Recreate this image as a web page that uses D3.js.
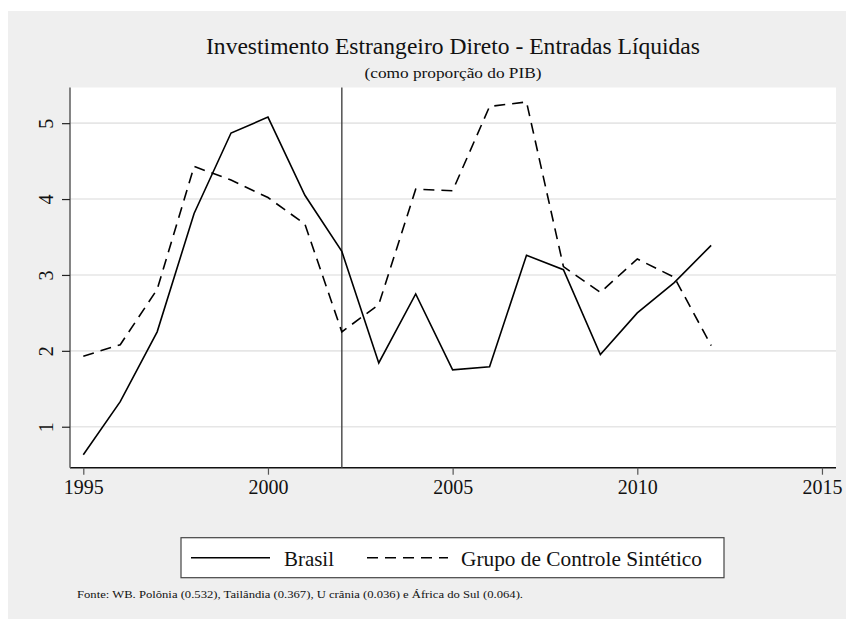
<!DOCTYPE html>
<html lang="pt">
<head>
  <meta charset="UTF-8">
  <title>Investimento Estrangeiro Direto</title>
  <script src="https://cdn.jsdelivr.net/npm/d3@7"></script>
  <style>
    body { margin: 0; background: #fff; }
    text { font-family: "Liberation Serif", "Times New Roman", Times, serif; fill: #111; }
    .grid line { stroke: #e6e6e6; stroke-width: 1.6px; }
    .line { fill: none; stroke: #000; stroke-width: 1.6px; }
  </style>
</head>
<body>
  <svg width="846" height="619"></svg>
  <script>
    // anos e séries (IED, % do PIB)
    const years = [1995, 1996, 1997, 1998, 1999, 2000, 2001, 2002, 2003, 2004,
                   2005, 2006, 2007, 2008, 2009, 2010, 2011, 2012];
    const brasil = [0.63, 1.33, 2.25, 3.81, 4.87, 5.08, 4.05, 3.31, 1.84, 2.75,
                    1.75, 1.79, 3.26, 3.07, 1.95, 2.50, 2.90, 3.39];
    const sintetico = [1.93, 2.08, 2.81, 4.43, 4.25, 4.02, 3.67, 2.25, 2.61, 4.13,
                       4.11, 5.22, 5.28, 3.11, 2.77, 3.21, 2.97, 2.07];
    const xTicks = [1995, 2000, 2005, 2010, 2015];
    const yTicks = [1, 2, 3, 4, 5];
    const treatYear = 2002;
    const seriesNames = ["Brasil", "Grupo de Controle Sintético"];
    const title = "Investimento Estrangeiro Direto - Entradas Líquidas";
    const subtitle = "(como proporção do PIB)";
    const note = "Fonte: WB. Polônia (0.532), Tailândia (0.367), U crânia (0.036) e  África do Sul (0.064).";

    const svg = d3.select("svg");

    // fundo cinza
    svg.append("rect")
      .attr("x", 8).attr("y", 11)
      .attr("width", 838).attr("height", 608)
      .attr("fill", "#efefef");

    const plot = { left: 70, top: 87.5, right: 836, bottom: 467.7 };

    const x = d3.scaleLinear()
      .domain([1994.64, 2015.38])
      .range([plot.left, plot.right]);
    const y = d3.scaleLinear()
      .domain([0.46, 5.47])
      .range([plot.bottom, plot.top]);

    svg.append("rect")
      .attr("x", plot.left).attr("y", plot.top)
      .attr("width", plot.right - plot.left)
      .attr("height", plot.bottom - plot.top)
      .attr("fill", "#fff");

    // linhas de grade
    svg.append("g").attr("class", "grid")
      .selectAll("line")
      .data(yTicks)
      .join("line")
        .attr("x1", plot.left).attr("x2", plot.right)
        .attr("y1", d => y(d)).attr("y2", d => y(d));

    // eixo x
    const xAxis = svg.append("g")
      .attr("transform", `translate(0,${plot.bottom})`)
      .call(d3.axisBottom(x).tickValues(xTicks).tickFormat(d3.format("d")).tickSize(7).tickPadding(5));
    xAxis.select(".domain").attr("stroke", "#111").attr("stroke-width", 1.4)
      .attr("d", `M${plot.left},0H${plot.right}`);
    xAxis.selectAll(".tick line").attr("stroke", "#555").attr("stroke-width", 1.2);
    xAxis.selectAll("text").attr("font-size", 20).attr("fill", "#111");

    // eixo y
    const yAxis = svg.append("g")
      .attr("transform", `translate(${plot.left},0)`)
      .call(d3.axisLeft(y).tickValues(yTicks).tickFormat(d3.format("d")).tickSize(8).tickPadding(0));
    yAxis.select(".domain").attr("stroke", "#666").attr("stroke-width", 1.6)
      .attr("d", `M0,${plot.top}V${plot.bottom}`);
    yAxis.selectAll(".tick line").attr("stroke", "#222").attr("stroke-width", 1.2);
    yAxis.selectAll("text")
      .attr("font-size", 20).attr("fill", "#111")
      .attr("x", 0).attr("dy", 0)
      .attr("text-anchor", "middle")
      .attr("transform", "translate(-17.5,0) rotate(-90)");

    // linha vertical do tratamento
    svg.append("line")
      .attr("x1", x(treatYear)).attr("x2", x(treatYear))
      .attr("y1", plot.top).attr("y2", plot.bottom)
      .attr("stroke", "#444").attr("stroke-width", 1.4);

    const line = d3.line()
      .x((d, i) => x(years[i]))
      .y(d => y(d));

    svg.append("path").datum(brasil)
      .attr("class", "line")
      .attr("d", line);

    svg.append("path").datum(sintetico)
      .attr("class", "line")
      .attr("stroke-dasharray", "11,7")
      .attr("d", line);

    // títulos
    svg.append("text")
      .attr("x", 453).attr("y", 54)
      .attr("text-anchor", "middle")
      .attr("font-size", 23)
      .attr("textLength", 494).attr("lengthAdjust", "spacingAndGlyphs")
      .text(title);
    svg.append("text")
      .attr("x", 453).attr("y", 78)
      .attr("text-anchor", "middle")
      .attr("font-size", 14.5)
      .attr("textLength", 177).attr("lengthAdjust", "spacingAndGlyphs")
      .text(subtitle);

    // legenda
    const legend = svg.append("g");
    legend.append("rect")
      .attr("x", 181).attr("y", 537.7)
      .attr("width", 543).attr("height", 40)
      .attr("fill", "#fff").attr("stroke", "#444").attr("stroke-width", 1.2);
    const items = [
      { name: seriesNames[0], x1: 191, x2: 270, tx: 284, tw: 50, dash: null },
      { name: seriesNames[1], x1: 367, x2: 448, tx: 461, tw: 241, dash: "11,7" }
    ];
    items.forEach(it => {
      legend.append("line")
        .attr("x1", it.x1).attr("x2", it.x2)
        .attr("y1", 557.7).attr("y2", 557.7)
        .attr("stroke", "#000").attr("stroke-width", 1.6)
        .attr("stroke-dasharray", it.dash);
      legend.append("text")
        .attr("x", it.tx).attr("y", 566)
        .attr("font-size", 22)
        .attr("textLength", it.tw).attr("lengthAdjust", "spacingAndGlyphs")
        .text(it.name);
    });

    // nota
    svg.append("text")
      .attr("x", 77).attr("y", 598)
      .attr("font-size", 11)
      .attr("textLength", 446).attr("lengthAdjust", "spacingAndGlyphs")
      .text(note);
  </script>
</body>
</html>
